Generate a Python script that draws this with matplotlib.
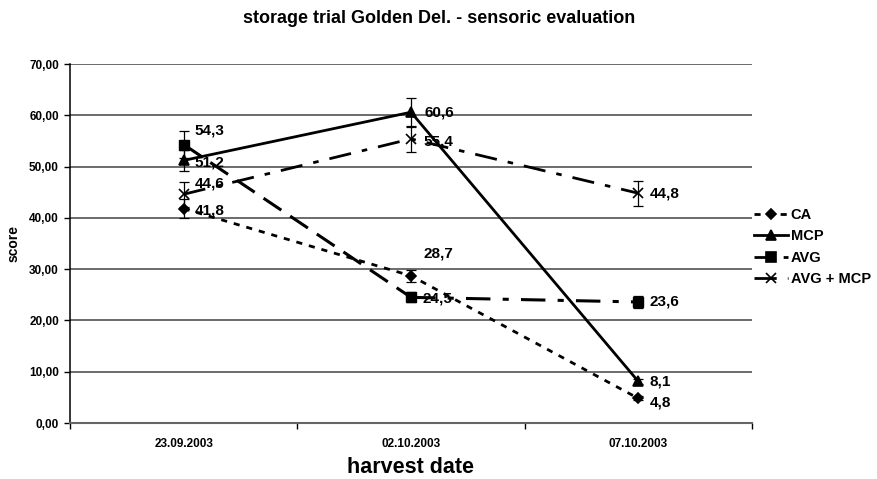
import matplotlib
matplotlib.use("Agg")
import matplotlib.pyplot as plt
from matplotlib.lines import Line2D

dates = ["23.09.2003", "02.10.2003", "07.10.2003"]
series = ["CA", "MCP", "AVG", "AVG + MCP"]
ca = [41.8, 28.7, 4.8]
mcp = [51.2, 60.6, 8.1]
avg = [54.3, 24.5, 23.6]
avg_mcp = [44.6, 55.4, 44.8]
ca_err = [1.8, 1.2, 0.4]
mcp_err = [2.0, 2.8, 0.5]
avg_err = [2.7, 1.0, 1.2]
avg_mcp_err = [2.4, 2.6, 2.4]
yticks = [0, 10, 20, 30, 40, 50, 60, 70]

plt.rcParams['font.family'] = ['Liberation Sans', 'DejaVu Sans']
plt.rcParams['font.weight'] = 'bold'

fig = plt.figure(figsize=(8.78, 4.79), dpi=100)
ax = fig.add_axes([70/878, 1-423/479, (752-70)/878, (423-64)/479])
x = list(range(len(dates)))

styles = {
    "CA": dict(ls=(0, (2.2, 2.5)), marker='D', ms=5.5),
    "MCP": dict(ls='-', marker='^', ms=6.5),
    "AVG": dict(ls=(0, (7, 3.5)), marker='s', ms=6.5),
    "AVG + MCP": dict(ls=(0, (8, 4, 2, 4)), marker='x', ms=7.5),
}
data = {"CA": (ca, ca_err), "MCP": (mcp, mcp_err), "AVG": (avg, avg_err), "AVG + MCP": (avg_mcp, avg_mcp_err)}

for name in series:
    vals, errs = data[name]
    st = styles[name]
    ax.errorbar(x, vals, yerr=errs, fmt='none', ecolor='black', elinewidth=0.9, capsize=3.5, capthick=0.9, zorder=3)
    if name == "AVG":
        ax.plot(x[:2], vals[:2], color='black', lw=2.2, ls=(0, (7, 3.5)), zorder=4)
        ax.plot(x[1:], vals[1:], color='black', lw=2.2, ls=(0, (8, 4, 2, 4)), zorder=4)
        ax.plot(x, vals, color='black', ls='none', marker=st['marker'], ms=st['ms'], zorder=5)
    else:
        ax.plot(x, vals, color='black', lw=2.0, ls=st['ls'], marker=st['marker'], ms=st['ms'],
                mew=1.2, zorder=4)

offsets = {
    "CA": [(8, -1), (9, 16), (8, -3)],
    "MCP": [(8, -1.5), (10, 0), (8, 0)],
    "AVG": [(8, 10), (8, -1), (8, 0)],
    "AVG + MCP": [(8, 8), (9, -2), (8, 0)],
}
for name in series:
    vals, _ = data[name]
    for i, v in enumerate(vals):
        ax.annotate(f"{v:.1f}".replace('.', ','), (x[i], v), xytext=offsets[name][i],
                    textcoords='offset points', fontsize=11, fontweight='bold',
                    va='center', ha='left', zorder=6)

ax.set_xlim(-0.5, 2.5)
ax.set_ylim(0, 70)
ax.set_yticks(yticks)
ax.set_yticklabels([f"{t:.2f}".replace('.', ',') for t in yticks], fontsize=8.5, fontweight='bold')
ax.set_xticks(x)
ax.set_xticklabels(dates, fontsize=8.5, fontweight='bold')
ax.tick_params(axis='x', which='major', length=0, pad=11)
ax.set_xticks([-0.5, 0.5, 1.5, 2.5], minor=True)
ax.tick_params(axis='x', which='minor', length=4, direction='out', width=1)
ax.tick_params(axis='y', length=4, direction='out', width=1, pad=4)
ax.grid(axis='y', color='#444444', lw=1.1)
ax.set_axisbelow(True)
for s in ['top', 'right']:
    ax.spines[s].set_visible(False)
ax.spines['left'].set_linewidth(1.1)
ax.spines['bottom'].set_color('#666666')
ax.spines['bottom'].set_linewidth(1.5)

ax.set_xlabel("harvest date", fontsize=15.5, fontweight='bold', labelpad=5)
ax.set_ylabel("score", fontsize=10, fontweight='bold', labelpad=6)
fig.suptitle("storage trial Golden Del. - sensoric evaluation", fontsize=13, fontweight='bold', y=0.98)

handles = []
for name in series:
    st = styles[name]
    handles.append(Line2D([], [], color='black', lw=2.0, ls=st['ls'], marker=st['marker'], ms=st['ms'], mew=1.2))
fig.legend(handles, series, loc='center left', bbox_to_anchor=(741/878, 1-247/479), frameon=False,
           handlelength=2.3, handletextpad=0.2, labelspacing=0.5,
           prop={'weight': 'bold', 'size': 10.5})

fig.savefig("out.png", dpi=100)
